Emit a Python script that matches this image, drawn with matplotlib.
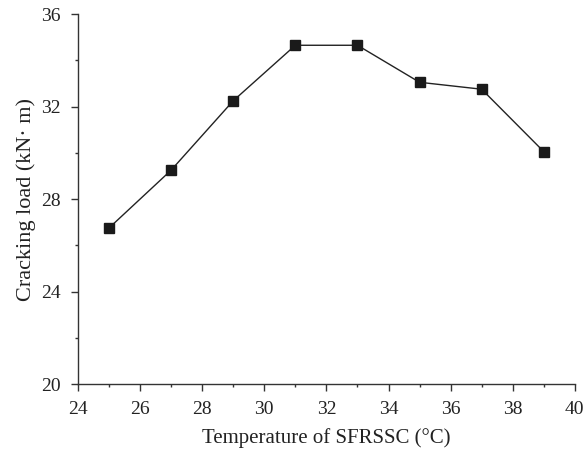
import matplotlib
matplotlib.use("Agg")
import matplotlib.pyplot as plt
from matplotlib.ticker import MultipleLocator

temperature = [25, 27, 29, 31, 33, 35, 37, 39]
cracking_load = [26.75, 29.25, 32.25, 34.65, 34.65, 33.05, 32.75, 30.05]

plt.rcParams['font.family'] = ['Liberation Serif', 'DejaVu Serif']

fig = plt.figure(figsize=(5.86, 4.53), dpi=100)
ax = fig.add_axes([0.133, 0.152, 0.848, 0.817])
ax.plot(temperature, cracking_load, color='#222222', lw=1.0,
        marker='s', markersize=7, markerfacecolor='#1a1a1a', markeredgecolor='#1a1a1a')

ax.set_xlim(24, 40)
ax.set_ylim(20, 36)
ax.xaxis.set_major_locator(MultipleLocator(2))
ax.xaxis.set_minor_locator(MultipleLocator(1))
ax.yaxis.set_major_locator(MultipleLocator(4))
ax.yaxis.set_minor_locator(MultipleLocator(2))
for s in ['top', 'right']:
    ax.spines[s].set_visible(False)
for s in ['left', 'bottom']:
    ax.spines[s].set_color('#333333')
    ax.spines[s].set_linewidth(1.0)
ax.tick_params(which='major', direction='out', length=5, width=1, color='#333333',
               labelsize=14, pad=7.3, labelcolor='#222222')
ax.tick_params(which='minor', direction='out', length=2.5, width=1, color='#333333')
ax.set_xlabel('Temperature of SFRSSC (°C)', fontsize=15, labelpad=7, color='#222222')
ax.set_ylabel('Cracking load (kN· m)', fontsize=16, labelpad=4, color='#222222')

fig.savefig('out.png', dpi=100)
